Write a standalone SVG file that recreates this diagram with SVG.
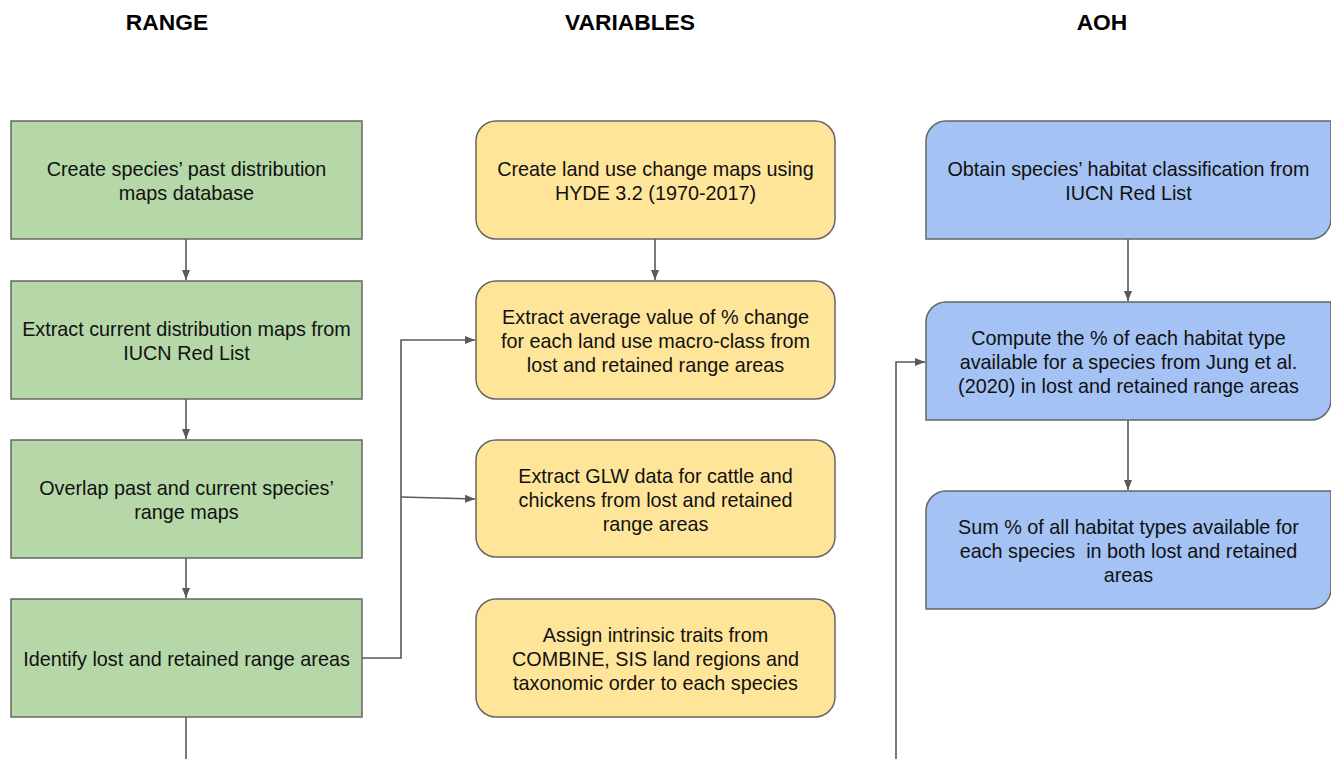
<svg xmlns="http://www.w3.org/2000/svg" width="1331" height="759" viewBox="0 0 1331 759">
<defs>
<marker id="arr" viewBox="0 0 10 10" refX="10" refY="5" markerWidth="10" markerHeight="10" markerUnits="userSpaceOnUse" orient="auto">
<path d="M0,1 L10,5 L0,9 z" fill="#595959"/>
</marker>
<style>
.g{fill:#b6d7a8;stroke:#666;stroke-width:1.5}
.y{fill:#ffe599;stroke:#666;stroke-width:1.5}
.b{fill:#a4c2f4;stroke:#666;stroke-width:1.5}
.t{font-family:"Liberation Sans",Arial,sans-serif;font-size:19.8px;fill:#111;text-anchor:middle}
.h{font-family:"Liberation Sans",Arial,sans-serif;font-size:22.8px;font-weight:bold;fill:#000;text-anchor:middle}
.c{fill:none;stroke:#595959;stroke-width:1.6}
</style>
</defs>
<rect width="1331" height="759" fill="#fff"/>
<text class="h" x="167" y="30">RANGE</text>
<text class="h" x="630" y="30">VARIABLES</text>
<text class="h" x="1102" y="30">AOH</text>

<g id="connectors">
<path class="c" d="M186,239 V280" marker-end="url(#arr)"/>
<path class="c" d="M186,399 V439" marker-end="url(#arr)"/>
<path class="c" d="M186,558 V598" marker-end="url(#arr)"/>
<path class="c" d="M186,717 V759"/>
<path class="c" d="M655,239 V280" marker-end="url(#arr)"/>
<path class="c" d="M362,658 H401 V340 H475" marker-end="url(#arr)"/>
<path class="c" d="M401,497 L475,499" marker-end="url(#arr)"/>
<path class="c" d="M1128,239 V301" marker-end="url(#arr)"/>
<path class="c" d="M1128,420 V490" marker-end="url(#arr)"/>
<path class="c" d="M896,759 V362 H925" marker-end="url(#arr)"/>
</g>

<g id="range1"><rect class="g" x="11" y="121" width="351" height="118"/>
<text class="t" x="186.5" y="176">Create species’ past distribution</text><text class="t" x="186.5" y="200">maps database</text></g>
<g id="range2"><rect class="g" x="11" y="281" width="351" height="118"/>
<text class="t" x="186.5" y="336">Extract current distribution maps from</text><text class="t" x="186.5" y="360">IUCN Red List</text></g>
<g id="range3"><rect class="g" x="11" y="440" width="351" height="118"/>
<text class="t" x="186.5" y="495">Overlap past and current species’</text><text class="t" x="186.5" y="519">range maps</text></g>
<g id="range4"><rect class="g" x="11" y="599" width="351" height="118"/>
<text class="t" x="186.5" y="666">Identify lost and retained range areas</text></g>

<g id="var1"><rect class="y" x="476" y="121" width="359" height="118" rx="20"/>
<text class="t" x="655.5" y="176">Create land use change maps using</text><text class="t" x="655.5" y="200">HYDE 3.2 (1970-2017)</text></g>
<g id="var2"><rect class="y" x="476" y="281" width="359" height="118" rx="20"/>
<text class="t" x="655.5" y="324">Extract average value of % change</text><text class="t" x="655.5" y="348">for each land use macro-class from</text><text class="t" x="655.5" y="372">lost and retained range areas</text></g>
<g id="var3"><rect class="y" x="476" y="440" width="359" height="117" rx="20"/>
<text class="t" x="655.5" y="483">Extract GLW data for cattle and</text><text class="t" x="655.5" y="507">chickens from lost and retained</text><text class="t" x="655.5" y="531">range areas</text></g>
<g id="var4"><rect class="y" x="476" y="599" width="359" height="118" rx="20"/>
<text class="t" x="655.5" y="642">Assign intrinsic traits from</text><text class="t" x="655.5" y="666">COMBINE, SIS land regions and</text><text class="t" x="655.5" y="690">taxonomic order to each species</text></g>

<g id="aoh1"><path class="b" d="M946,121 H1331 V219 A20,20 0 0 1 1311,239 H926 V141 A20,20 0 0 1 946,121 Z"/>
<text class="t" x="1128.5" y="176">Obtain species’ habitat classification from</text><text class="t" x="1128.5" y="200">IUCN Red List</text></g>
<g id="aoh2"><path class="b" d="M946,302 H1331 V400 A20,20 0 0 1 1311,420 H926 V322 A20,20 0 0 1 946,302 Z"/>
<text class="t" x="1128.5" y="345">Compute the % of each habitat type</text><text class="t" x="1128.5" y="369">available for a species from Jung et al.</text><text class="t" x="1128.5" y="393">(2020) in lost and retained range areas</text></g>
<g id="aoh3"><path class="b" d="M946,491 H1331 V589 A20,20 0 0 1 1311,609 H926 V511 A20,20 0 0 1 946,491 Z"/>
<text class="t" x="1128.5" y="534">Sum % of all habitat types available for</text><text class="t" x="1128.5" y="558">each species&#160; in both lost and retained</text><text class="t" x="1128.5" y="582">areas</text></g>
</svg>
